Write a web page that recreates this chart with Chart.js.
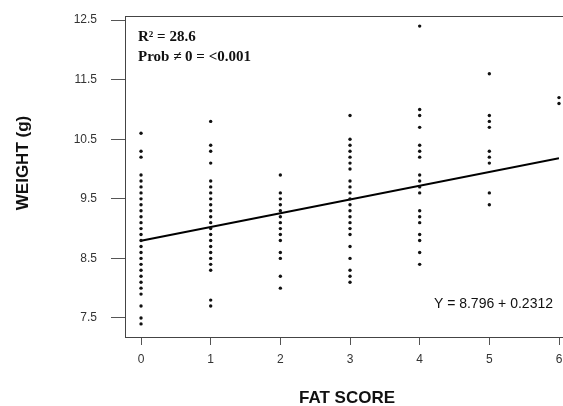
<!DOCTYPE html>
<html>
<head>
<meta charset="utf-8">
<script src="https://cdn.jsdelivr.net/npm/chart.js@4"></script>
<style>
  body { margin: 0; background: #fff; }
</style>
</head>
<body>
<canvas id="myChart" width="563" height="406"></canvas>
<script>
// fat score categories and the weights (g) measured at each score
const fatScores = [0, 1, 2, 3, 4, 5, 6];
const weights0 = [10.6, 10.3, 10.2, 9.9, 9.8, 9.7, 9.6, 9.5, 9.4, 9.3, 9.2, 9.1, 9.0, 8.9, 8.8, 8.7, 8.6, 8.5, 8.4, 8.3, 8.2, 8.1, 8.0, 7.9, 7.7, 7.5, 7.4];
const weights1 = [10.8, 10.4, 10.3, 10.1, 9.8, 9.7, 9.6, 9.5, 9.4, 9.3, 9.2, 9.1, 9.0, 8.9, 8.8, 8.7, 8.6, 8.5, 8.4, 8.3, 7.8, 7.7];
const weights2 = [9.9, 9.6, 9.5, 9.4, 9.3, 9.2, 9.1, 9.0, 8.9, 8.8, 8.6, 8.5, 8.2, 8.0];
const weights3 = [10.9, 10.5, 10.4, 10.3, 10.2, 10.1, 10.0, 9.8, 9.7, 9.6, 9.5, 9.4, 9.3, 9.2, 9.1, 9.0, 8.9, 8.7, 8.5, 8.3, 8.2, 8.1];
const weights4 = [12.4, 11.0, 10.9, 10.7, 10.4, 10.3, 10.2, 9.9, 9.8, 9.7, 9.6, 9.3, 9.2, 9.1, 8.9, 8.8, 8.6, 8.4];
const weights5 = [11.6, 10.9, 10.8, 10.7, 10.3, 10.2, 10.1, 9.6, 9.4];
const weights6 = [11.2, 11.1];
const weightsByScore = [weights0, weights1, weights2, weights3, weights4, weights5, weights6];

// regression printed on the chart
const intercept = 8.796;
const slope = 0.2312;
const rSquared = "28.6";
const prob = "<0.001";

const yTicks = [7.5, 8.5, 9.5, 10.5, 11.5, 12.5];
const xTicks = [0, 1, 2, 3, 4, 5, 6];

const points = [];
fatScores.forEach((s, i) => {
  weightsByScore[i].forEach((w) => points.push({ x: s, y: w }));
});
const xFirst = fatScores[0];
const xLast = fatScores[fatScores.length - 1];
const fitLine = [
  { x: xFirst, y: intercept + slope * xFirst },
  { x: xLast, y: intercept + slope * xLast },
];

Chart.defaults.font.family = 'Arial, "Liberation Sans", sans-serif';

const textPlugin = {
  id: "texts",
  afterDraw(chart) {
    const c = chart.ctx;
    const a = chart.chartArea;
    c.save();
    // top border of the box, and bottom border carried to the edge
    c.strokeStyle = "#444";
    c.lineWidth = 1;
    c.beginPath();
    c.moveTo(a.left, a.top + 0.5);
    c.lineTo(chart.width, a.top + 0.5);
    c.moveTo(a.right, a.bottom + 0.5);
    c.lineTo(chart.width, a.bottom + 0.5);
    c.stroke();

    c.fillStyle = "#111";
    c.font = 'bold 15px "Liberation Serif", "Times New Roman", serif';
    c.textAlign = "left";
    c.textBaseline = "alphabetic";
    c.fillText("R\u00B2 = " + rSquared, 138, 41);
    c.fillText("Prob \u2260 0 = " + prob, 138, 61);

    c.font = '14px Arial, "Liberation Sans", sans-serif';
    c.textAlign = "right";
    c.fillText("Y = " + intercept + " + " + slope, 553, 308);

    c.font = 'bold 17px Arial, "Liberation Sans", sans-serif';
    c.textAlign = "center";
    c.textBaseline = "middle";
    c.fillText("FAT SCORE", 347, 398);
    c.translate(23, 163);
    c.rotate(-Math.PI / 2);
    c.fillText("WEIGHT (g)", 0, 0);
    c.restore();
  },
};

const ctx = document.getElementById("myChart");
new Chart(ctx, {
  type: "scatter",
  data: {
    datasets: [
      {
        label: "Weight",
        data: points,
        pointRadius: 1.7,
        pointBorderWidth: 0,
        backgroundColor: "#111",
        clip: 4,
      },
      {
        type: "line",
        label: "Fit",
        data: fitLine,
        borderColor: "#000",
        borderWidth: 2,
        pointRadius: 0,
        fill: false,
      },
    ],
  },
  options: {
    responsive: false,
    animation: false,
    layout: { padding: { top: 16, right: 0, left: 0, bottom: 0 } },
    plugins: {
      legend: { display: false },
      tooltip: { enabled: false },
    },
    scales: {
      x: {
        type: "linear",
        min: -0.23,
        max: 6.0,
        afterBuildTicks: (scale) => {
          scale.ticks = xTicks.map((v) => ({ value: v }));
        },
        afterFit: (scale) => {
          scale.height = 69;
          scale.paddingLeft = 0;
          scale.paddingRight = 0;
        },
        grid: { drawOnChartArea: false, tickLength: 8, color: "#555" },
        border: { display: true, color: "#444", width: 1 },
        ticks: { color: "#333", font: { size: 12 }, padding: 7, maxRotation: 0, autoSkip: false },
      },
      y: {
        type: "linear",
        min: 7.18,
        max: 12.57,
        afterBuildTicks: (scale) => {
          scale.ticks = yTicks.map((v) => ({ value: v }));
        },
        afterFit: (scale) => {
          scale.width = 125;
          scale.paddingTop = 0;
          scale.paddingBottom = 0;
        },
        grid: { drawOnChartArea: false, tickLength: 14, color: "#555" },
        border: { display: true, color: "#444", width: 1 },
        ticks: {
          color: "#333",
          font: { size: 12 },
          padding: 14,
          autoSkip: false,
          callback: (v) => Number(v).toFixed(1),
        },
      },
    },
  },
  plugins: [textPlugin],
});
</script>
</body>
</html>
